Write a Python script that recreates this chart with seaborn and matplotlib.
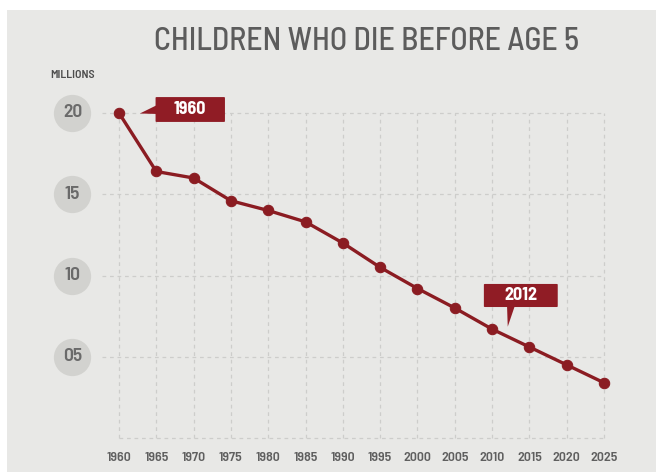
import matplotlib
matplotlib.use("Agg")
import matplotlib.pyplot as plt
from matplotlib.patches import Rectangle, Polygon, FancyBboxPatch
import seaborn as sns
import pandas as pd

# Under-five deaths worldwide, in millions
years = [1960, 1965, 1970, 1975, 1980, 1985, 1990, 1995, 2000, 2005, 2010, 2015, 2020, 2025]
deaths = [20.0, 16.4, 16.0, 14.6, 14.0, 13.3, 12.0, 10.5, 9.2, 8.0, 6.7, 5.6, 4.5, 3.4]
y_ticks = [5, 10, 15, 20]
y_tick_labels = ["05", "10", "15", "20"]
callout_years = ["1960", "2012"]

df = pd.DataFrame({"year": years, "deaths": deaths})

sns.set_theme(style="white")
plt.rcParams["font.family"] = ["Barlow Semi Condensed", "DejaVu Sans"]

BG = "#e8e8e6"
RED = "#8b1c22"
BOX = "#901c25"
GRID = "#cdcdcb"
TXT = "#5f5f5f"

fig = plt.figure(figsize=(6.56, 4.72), dpi=100)
fig.patch.set_facecolor("white")
fig.add_artist(Rectangle((7 / 656, 0), 1 - 7 / 656, 1 - 10 / 472,
                         transform=fig.transFigure, fc=BG, ec="none", zorder=-10))

ax = fig.add_axes([119 / 656, 34 / 472, 485 / 656, 325 / 472])
ax.set_facecolor("none")
ax.set_xlim(1960, 2025)
ax.set_ylim(0, 20)
for s in ax.spines.values():
    s.set_visible(False)

# dashed grid
for x in years:
    ax.plot([x, x], [0, 20], color=GRID, lw=0.9, ls=(0, (3, 3)), zorder=1, clip_on=False)
ax.plot([1960, 2025], [0, 0], color=GRID, lw=0.9, ls=(0, (3, 3)), zorder=1, clip_on=False)
for yv in y_ticks:
    ax.plot([1957.7, 2025], [yv, yv], color=GRID, lw=0.9, ls=(0, (3, 3)), zorder=1, clip_on=False)

sns.lineplot(data=df, x="year", y="deaths", ax=ax, color=RED, lw=2.4,
             marker="o", markersize=7.5, markeredgecolor=RED, zorder=5, clip_on=False)
ax.set_xlabel("")
ax.set_ylabel("")

# x tick labels
ax.set_xticks(years)
ax.set_xticklabels([str(y) for y in years], fontsize=10, fontweight="semibold", color=TXT)
ax.tick_params(axis="x", length=0, pad=10)
ax.set_yticks([])

# y labels inside grey discs
ytr = ax.get_yaxis_transform()
DISC_X = -0.096
ax.scatter([DISC_X] * len(y_ticks), y_ticks, s=720, color="#d2d2cf", transform=ytr,
           clip_on=False, zorder=2, linewidths=0)
for yv, lab in zip(y_ticks, y_tick_labels):
    ax.text(DISC_X, yv, lab, transform=ytr, ha="center", va="center",
            fontsize=14, fontweight="semibold", color="#6a6a6a", zorder=3)

fig.text(50 / 656, 1 - 75 / 472, "MILLIONS", fontsize=8.5, fontweight="semibold",
         color="#4e4e4e", ha="left", va="center")
fig.text(367 / 656, 1 - 42 / 472, "CHILDREN WHO DIE BEFORE AGE 5", fontsize=23,
         fontweight="medium", color="#5c5c5c", ha="center", va="center")

# callout boxes
def callout(x0, x1, y0, y1, tri, label):
    ax.add_patch(FancyBboxPatch((x0, y0), x1 - x0, y1 - y0,
                                boxstyle="round,pad=0,rounding_size=0.15",
                                fc=BOX, ec="none", zorder=6, clip_on=False,
                                mutation_aspect=0.3))
    ax.add_patch(Polygon(tri, closed=True, fc=BOX, ec="none", zorder=6, clip_on=False))
    ax.text((x0 + x1) / 2, (y0 + y1) / 2, label, ha="center", va="center",
            fontsize=13, fontweight="bold", color="white", zorder=7)

callout(1964.9, 1974.2, 19.45, 20.98,
        [(1962.8, 19.97), (1965.1, 20.49), (1965.1, 19.94)], callout_years[0])
callout(2008.9, 2018.8, 8.06, 9.48,
        [(2012.1, 6.85), (2012.0, 8.2), (2013.1, 8.2)], callout_years[1])

fig.savefig("out.png", dpi=100, facecolor=fig.get_facecolor())
